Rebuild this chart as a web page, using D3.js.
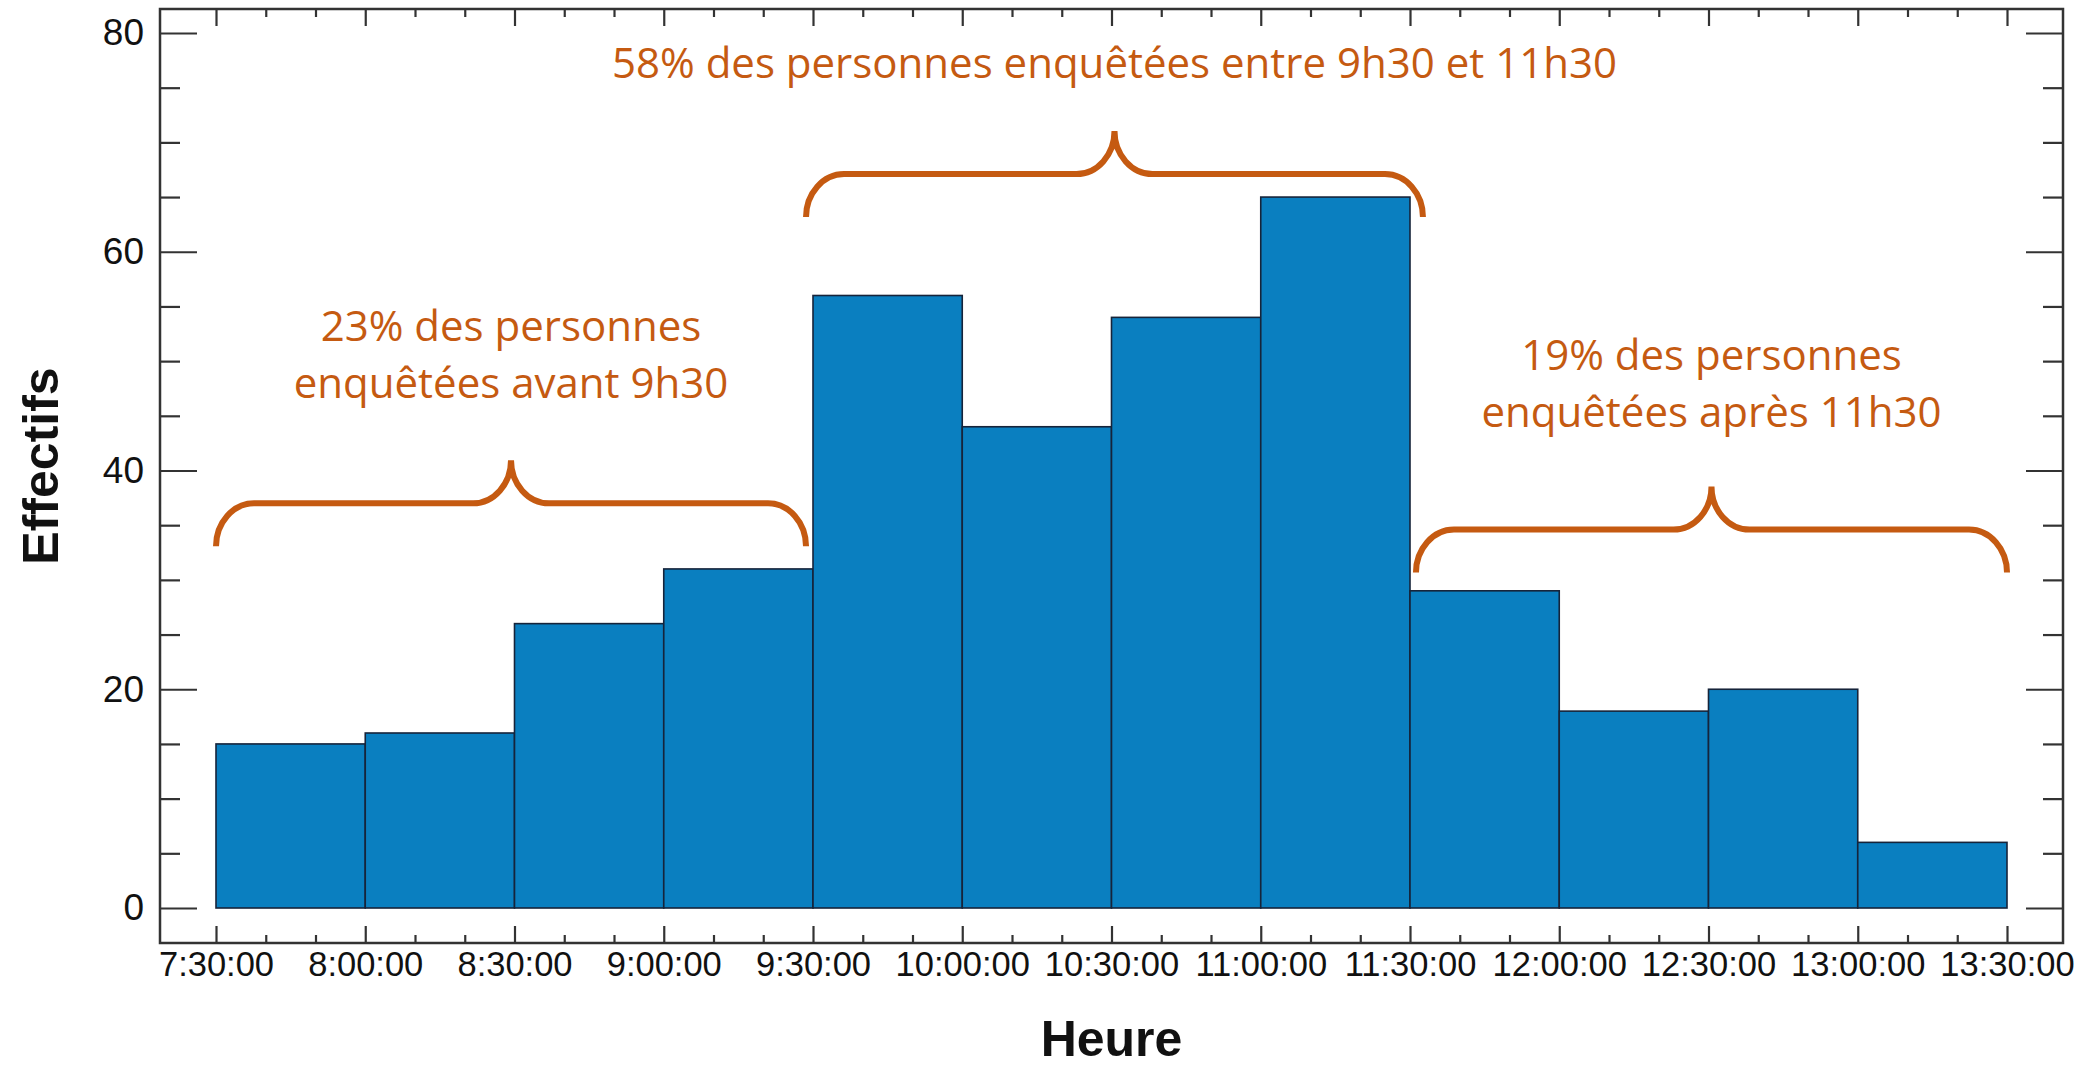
<!DOCTYPE html>
<html>
<head>
<meta charset="utf-8">
<script src="https://cdn.jsdelivr.net/npm/d3@7"></script>
<style>
  body { margin: 0; background: #fff; }
  svg { display: block; }
</style>
</head>
<body>
<div id="histo"></div>
<script>
// histogram data (times in minutes since midnight)
const binStarts = [450, 480, 510, 540, 570, 600, 630, 660, 690, 720, 750, 780];
const binWidth = 30;
const counts = [15, 16, 26, 31, 56, 44, 54, 65, 29, 18, 20, 6];

const xMajorTicks = [450, 480, 510, 540, 570, 600, 630, 660, 690, 720, 750, 780, 810];
const yMajorTicks = [0, 20, 40, 60, 80];

// annotations : brace span (minutes), level of the flat part, text lines
const braceFrom = [450, 568.6, 691.2];
const braceTo = [568.6, 692.6, 810];
const braceLevel = [37.0, 67.1, 34.6];
const braceText = [
  ["23% des personnes", "enquêtées avant 9h30"],
  ["58% des personnes enquêtées entre 9h30 et 11h30"],
  ["19% des personnes", "enquêtées après 11h30"]
];
const textLevel = [51.8, 75.9, 49.2];

const width = 2088, height = 1067;
const frame = {left: 160, top: 9, right: 2063, bottom: 943};

const svg = d3.select("#histo")
  .append("svg")
    .attr("width", width)
    .attr("height", height);

const x = d3.scaleLinear().domain([450, 810]).range([216, 2007]);
const y = d3.scaleLinear().domain([0, 80]).range([908, 33]);

const fmt = m => `${Math.floor(m / 60)}:${String(m % 60).padStart(2, "0")}:00`;

const xMinor = d3.range(450, 811, 10).filter(m => (m - 450) % 30 !== 0);
const yMinor = d3.range(0, 81, 5).filter(v => v % 20 !== 0);

// bars
svg.append("g")
  .selectAll("rect")
  .data(binStarts)
  .join("rect")
    .attr("x", (d) => x(d))
    .attr("y", (d, i) => y(counts[i]))
    .attr("width", d => x(d + binWidth) - x(d))
    .attr("height", (d, i) => y(0) - y(counts[i]))
    .attr("fill", "#0a7fc0")
    .attr("stroke", "#16243a")
    .attr("stroke-width", 1.6);

// axes (ticks point inside the frame)
function styleAxis(g) {
  g.select(".domain").remove();
  g.selectAll(".tick line").attr("stroke", "#333").attr("stroke-width", 2.2);
  g.selectAll("text").attr("fill", "#111").attr("font-family", "'Liberation Sans', Arial, sans-serif");
}

svg.append("g")
  .attr("transform", `translate(0,${frame.bottom})`)
  .call(d3.axisBottom(x).tickValues(xMajorTicks).tickFormat(fmt).tickSize(-17).tickPadding(9))
  .call(styleAxis)
  .call(g => g.selectAll("text").attr("font-size", 34.5));
svg.append("g")
  .attr("transform", `translate(0,${frame.bottom})`)
  .call(d3.axisBottom(x).tickValues(xMinor).tickFormat("").tickSize(-8))
  .call(styleAxis);
svg.append("g")
  .attr("transform", `translate(0,${frame.top})`)
  .call(d3.axisTop(x).tickValues(xMajorTicks).tickFormat("").tickSize(-17))
  .call(styleAxis);
svg.append("g")
  .attr("transform", `translate(0,${frame.top})`)
  .call(d3.axisTop(x).tickValues(xMinor).tickFormat("").tickSize(-8))
  .call(styleAxis);

svg.append("g")
  .attr("transform", `translate(${frame.left},0)`)
  .call(d3.axisLeft(y).tickValues(yMajorTicks).tickSize(-37).tickPadding(16))
  .call(styleAxis)
  .call(g => g.selectAll("text").attr("font-size", 37));
svg.append("g")
  .attr("transform", `translate(${frame.left},0)`)
  .call(d3.axisLeft(y).tickValues(yMinor).tickFormat("").tickSize(-20))
  .call(styleAxis);
svg.append("g")
  .attr("transform", `translate(${frame.right},0)`)
  .call(d3.axisRight(y).tickValues(yMajorTicks).tickFormat("").tickSize(-37))
  .call(styleAxis);
svg.append("g")
  .attr("transform", `translate(${frame.right},0)`)
  .call(d3.axisRight(y).tickValues(yMinor).tickFormat("").tickSize(-20))
  .call(styleAxis);

// frame
svg.append("rect")
  .attr("x", frame.left)
  .attr("y", frame.top)
  .attr("width", frame.right - frame.left)
  .attr("height", frame.bottom - frame.top)
  .attr("fill", "none")
  .attr("stroke", "#333")
  .attr("stroke-width", 2.5);

// axis titles
svg.append("text")
  .attr("x", (x.range()[0] + x.range()[1]) / 2)
  .attr("y", 1056)
  .attr("text-anchor", "middle")
  .attr("font-family", "'Liberation Sans', Arial, sans-serif")
  .attr("font-weight", "bold")
  .attr("font-size", 50)
  .attr("fill", "#111")
  .text("Heure");

svg.append("text")
  .attr("transform", "translate(58,466) rotate(-90)")
  .attr("text-anchor", "middle")
  .attr("font-family", "'Liberation Sans', Arial, sans-serif")
  .attr("font-weight", "bold")
  .attr("font-size", 50)
  .attr("fill", "#111")
  .text("Effectifs");

// braces
const orange = "#c55a11";
const d = 43, r = 38, k = 0.45;
function bracePath(x0, x1, yf) {
  const xm = (x0 + x1) / 2;
  return `M${x0},${yf + d} C${x0},${yf + d * k} ${x0 + r * k},${yf} ${x0 + r},${yf}` +
    ` L${xm - r},${yf} C${xm - r * k},${yf} ${xm},${yf - d * k} ${xm},${yf - d}` +
    ` C${xm},${yf - d * k} ${xm + r * k},${yf} ${xm + r},${yf}` +
    ` L${x1 - r},${yf} C${x1 - r * k},${yf} ${x1},${yf + d * k} ${x1},${yf + d}`;
}

svg.append("g")
  .selectAll("path")
  .data(braceLevel)
  .join("path")
    .attr("d", (lv, i) => bracePath(x(braceFrom[i]), x(braceTo[i]), y(lv)))
    .attr("fill", "none")
    .attr("stroke", orange)
    .attr("stroke-width", 6);

const notes = svg.append("g")
  .selectAll("text")
  .data(braceText)
  .join("text")
    .attr("x", (t, i) => (x(braceFrom[i]) + x(braceTo[i])) / 2)
    .attr("y", (t, i) => y(textLevel[i]))
    .attr("text-anchor", "middle")
    .attr("font-family", "'Open Sans', sans-serif")
    .attr("font-size", 42)
    .attr("fill", orange);

notes.selectAll("tspan")
  .data(t => t)
  .join("tspan")
    .attr("x", function() { return this.parentNode.getAttribute("x"); })
    .attr("dy", (t, j) => j === 0 ? 0 : 57)
    .text(t => t);
</script>
</body>
</html>
